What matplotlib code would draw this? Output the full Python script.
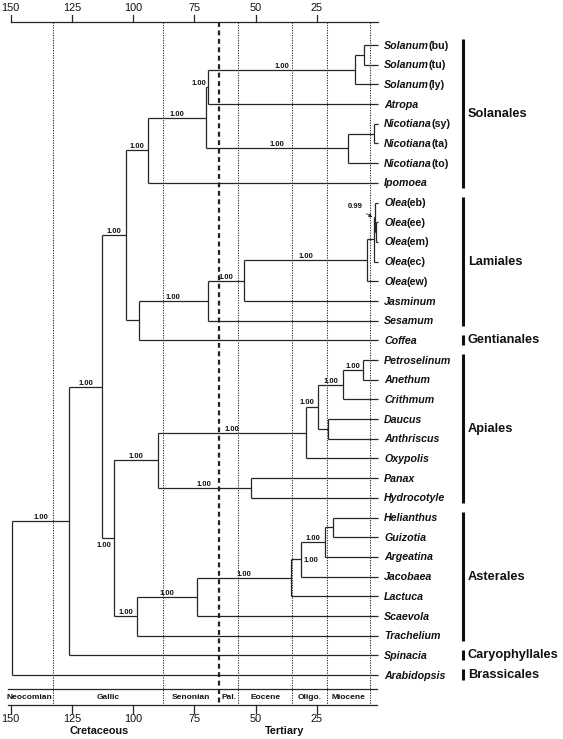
import matplotlib
matplotlib.use("Agg")
import matplotlib.pyplot as plt

plt.rcParams['font.family'] = ['Liberation Sans', 'DejaVu Sans']

# ---- data ----
tips = ["Solanum(bu)", "Solanum(tu)", "Solanum(ly)", "Atropa",
        "Nicotiana(sy)", "Nicotiana(ta)", "Nicotiana(to)", "Ipomoea",
        "Olea(eb)", "Olea(ee)", "Olea(em)", "Olea(ec)", "Olea(ew)",
        "Jasminum", "Sesamum", "Coffea",
        "Petroselinum", "Anethum", "Crithmum", "Daucus", "Anthriscus",
        "Oxypolis", "Panax", "Hydrocotyle",
        "Helianthus", "Guizotia", "Argeatina", "Jacobaea", "Lactuca",
        "Scaevola", "Trachelium", "Spinacia", "Arabidopsis"]

# clades: name, children, age (Ma)
clade_names = ["H", "G", "F", "J", "I", "E", "D",
               "R", "Q", "O", "N", "M", "L", "K", "C",
               "W", "X", "Y", "V", "U", "Z", "T",
               "AF", "AE", "AD", "AC", "AB", "AA", "S", "B", "A", "root"]
clade_children = [
    ["Solanum(bu)", "Solanum(tu)"], ["H", "Solanum(ly)"], ["G", "Atropa"],
    ["Nicotiana(sy)", "Nicotiana(ta)"], ["J", "Nicotiana(to)"], ["F", "I"],
    ["E", "Ipomoea"],
    ["Olea(ee)", "Olea(em)"], ["Olea(eb)", "R"], ["Q", "Olea(ec)"],
    ["O", "Olea(ew)"], ["N", "Jasminum"], ["M", "Sesamum"], ["L", "Coffea"],
    ["D", "K"],
    ["Petroselinum", "Anethum"], ["W", "Crithmum"], ["Daucus", "Anthriscus"],
    ["X", "Y"], ["V", "Oxypolis"], ["Panax", "Hydrocotyle"], ["U", "Z"],
    ["Helianthus", "Guizotia"], ["AF", "Argeatina"], ["AE", "Jacobaea"],
    ["AD", "Lactuca"], ["AC", "Scaevola"], ["AB", "Trachelium"],
    ["T", "AA"], ["C", "S"], ["B", "Spinacia"], ["A", "Arabidopsis"]]
clade_ages = [5.6, 9.4, 69.3, 1.5, 12.4, 70.4, 93.8,
              1.0, 1.2, 1.5, 4.4, 54.7, 69.5, 97.6, 103.0,
              6.0, 14.2, 20.3, 24.6, 29.4, 51.9, 90.0,
              18.5, 21.6, 31.6, 35.6, 74.0, 98.4, 107.8, 112.8, 126.0, 149.4]

support_nodes = ["G", "F", "E", "D", "I", "C", "N", "M", "L", "B",
                 "W", "X", "V", "U", "T", "Z", "A", "S",
                 "AE", "AD", "AC", "AB", "AA"]
support_values = ["1.00"] * len(support_nodes)

groups = ["Solanales", "Lamiales", "Gentianales", "Apiales",
          "Asterales", "Caryophyllales", "Brassicales"]
group_first = ["Solanum(bu)", "Olea(eb)", "Coffea", "Petroselinum",
               "Helianthus", "Spinacia", "Arabidopsis"]
group_last = ["Ipomoea", "Sesamum", "Coffea", "Hydrocotyle",
              "Trachelium", "Spinacia", "Arabidopsis"]

axis_ticks = [150, 125, 100, 75, 50, 25]
periods = ["Neocomian", "Gallic", "Senonian", "Pal.", "Eocene", "Oligo.", "Miocene"]
period_bounds = [150, 132.6, 87.9, 65, 57.0, 35.2, 21.0, 3.3]
eras = ["Cretaceous", "Tertiary"]
era_pos = [114, 38]

# ---- layout helpers (pixel -> data) ----
X0, PX_MA = 378.0, 2.449
Y0, ROW = 45.0, 19.6875


def age_at(px):
    return (X0 - px) / PX_MA


def row_at(py):
    return (py - Y0) / ROW


LC = '#262626'
LW = 0.9

fig = plt.figure(figsize=(5.63, 7.39), dpi=100)
ax = fig.add_axes([0, 0, 1, 1])
ax.set_xlim(age_at(0), age_at(563))
ax.set_ylim(row_at(739), row_at(0))
ax.axis('off')

# ---- tree ----
age = {t: 0.0 for t in tips}
ypos = {t: i for i, t in enumerate(tips)}
children = dict(zip(clade_names, clade_children))
age.update(dict(zip(clade_names, clade_ages)))
parent = {}
for name in clade_names:
    kids = children[name]
    for k in kids:
        parent[k] = name
    ypos[name] = sum(ypos[k] for k in kids) / len(kids)

for name in clade_names:
    kids = children[name]
    ys = [ypos[k] for k in kids]
    ax.plot([age[name], age[name]], [min(ys), max(ys)], color=LC, lw=LW,
            solid_capstyle='butt')
    for k in kids:
        ax.plot([age[name], age[k]], [ypos[k], ypos[k]], color=LC, lw=LW,
                solid_capstyle='butt')

# support values, centred over the stem unless overridden
SFS = 5.5
overrides = {"F": (199, 83.3), "S": (104.3, 545.7),
             "V": (306.7, 402.3), "AD": (311, 561)}
for node, val in zip(support_nodes, support_values):
    if node in overrides:
        px, py = overrides[node]
        ax.text(age_at(px), row_at(py), val, ha='center', va='center',
                fontsize=SFS, fontweight='bold', color='#111')
    else:
        xm = (age[parent[node]] + age[node]) / 2
        ax.annotate(val, xy=(xm, ypos[node]), xytext=(0, 1.5),
                    textcoords='offset points', ha='center', va='baseline',
                    fontsize=SFS, fontweight='bold', color='#111')

ax.annotate("0.99", xy=(age_at(372.5), ypos["Q"]),
            xytext=(age_at(355), row_at(207)), ha='center', va='center',
            fontsize=SFS, fontweight='bold', color='#111',
            arrowprops=dict(arrowstyle='-|>', lw=0.6, color='#222',
                            linestyle=(0, (1.5, 1)), mutation_scale=5,
                            shrinkA=1, shrinkB=0))

# tip labels: genus italic, suffix upright
for i, t in enumerate(tips):
    genus, _, rest = t.partition('(')
    txt = ax.annotate(genus, xy=(age_at(384), i), xytext=(0, -2.6),
                      textcoords='offset points', ha='left', va='baseline',
                      fontsize=7.7, fontweight='bold', fontstyle='italic',
                      color='#111')
    if rest:
        ax.annotate('(' + rest, xy=(1, i), xycoords=(txt, 'data'),
                    xytext=(-0.4, -2.6), textcoords='offset points',
                    ha='left', va='baseline', fontsize=7.7,
                    fontweight='bold', color='#111')

# order bars
for g, a, b in zip(groups, group_first, group_last):
    y1, y2 = ypos[a] - 0.28, ypos[b] + 0.26
    ax.plot([age_at(463), age_at(463)], [y1, y2], color='#111', lw=2.2,
            solid_capstyle='butt')
    ax.text(age_at(468), (ypos[a] + ypos[b]) / 2, g, ha='left',
            va='center', fontsize=9.2, fontweight='bold', color='#111')

# ---- time axes ----
ytop = row_at(21.7)
ax.plot([150, 0], [ytop, ytop], color=LC, lw=LW)
for t in axis_ticks:
    ax.plot([t, t], [row_at(15), ytop], color=LC, lw=LW)
    ax.text(t, row_at(8), str(t), ha='center', va='center', fontsize=7.8,
            color='#111')

yband, ybot = row_at(689.3), row_at(705)
ax.plot([age_at(8.3), 0.5], [yband, yband], color=LC, lw=LW)
ax.plot([age_at(8.3), 0.5], [ybot, ybot], color=LC, lw=LW)
for t in axis_ticks:
    ax.plot([t, t], [ybot, row_at(713)], color=LC, lw=LW)
    ax.text(t, row_at(719.5), str(t), ha='center', va='center',
            fontsize=7.8, color='#111')

for b in period_bounds[1:]:
    if b == 65:
        ax.plot([b, b], [ytop, ybot], color='#222', lw=1.6,
                linestyle=(0, (2.2, 1.6)))
    else:
        ax.plot([b, b], [ytop, ybot], color='#333', lw=0.75,
                linestyle=(0, (1.2, 1.2)))

for p, a, b in zip(periods, period_bounds[:-1], period_bounds[1:]):
    xc = (a + b) / 2 if p != "Neocomian" else age_at(29)
    ax.text(xc, row_at(697.5), p, ha='center', va='center', fontsize=6,
            fontweight='bold', color='#111')

for e, x in zip(eras, era_pos):
    ax.text(x, row_at(731.5), e, ha='center', va='center', fontsize=7.8,
            fontweight='bold', color='#111')

fig.savefig("out.png", dpi=100)
